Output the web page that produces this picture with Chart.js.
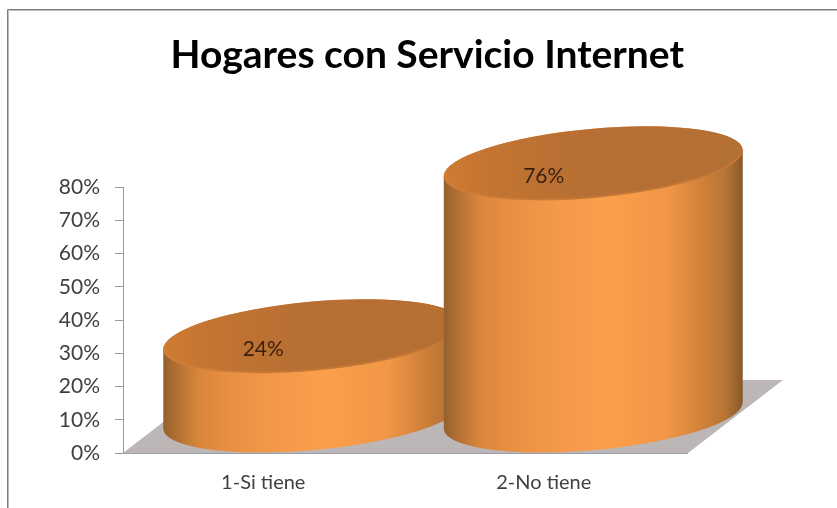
<!DOCTYPE html>
<html>
<head>
<meta charset="utf-8">
<title>Hogares con Servicio Internet</title>
<script src="https://cdn.jsdelivr.net/npm/chart.js@4/dist/chart.umd.min.js"></script>
<style>
    html, body { margin: 0; padding: 0; background: #fff; }
    canvas { display: block; }
</style>
</head>
<body>
<canvas id="chart" width="837" height="508"></canvas>
<script>
const categories = ['1-Si tiene', '2-No tiene'];
const values = [24, 76];
const chartTitle = 'Hogares con Servicio Internet';

// 3D look, in pixels: the floor runs back from the axis, cylinders stand mid-floor
const floorDepthX = 95;
const floorDepthY = 73;
const floorExtraRight = 4;
const barOffsetX = 49.5;
const barOffsetY = 37;
const topRadiusY = 34.5;
const topTilt = -0.0913;

function bodyGradient(ctx, left, right) {
    const g = ctx.createLinearGradient(left, 0, right, 0);
    g.addColorStop(0, '#91602e');
    g.addColorStop(0.03, '#a86a30');
    g.addColorStop(0.12, '#d9863c');
    g.addColorStop(0.25, '#ec9144');
    g.addColorStop(0.4, '#f5994a');
    g.addColorStop(0.55, '#fc9f4c');
    g.addColorStop(0.75, '#f19646');
    g.addColorStop(0.87, '#cf8039');
    g.addColorStop(0.94, '#b87436');
    g.addColorStop(0.98, '#96622d');
    g.addColorStop(1, '#85562a');
    return g;
}

function topGradient(ctx, left, right) {
    const g = ctx.createLinearGradient(left, 0, right, 0);
    g.addColorStop(0, '#d07c32');
    g.addColorStop(0.14, '#c47532');
    g.addColorStop(0.45, '#b76f33');
    g.addColorStop(1, '#b57034');
    return g;
}

const cylinderPlugin = {
    id: 'cylinders',
    beforeDraw(chart) {
        // figure frame, only top and left are visible
        const ctx = chart.ctx;
        ctx.save();
        ctx.strokeStyle = '#bbb';
        ctx.lineWidth = 1;
        ctx.beginPath();
        ctx.moveTo(8.5, chart.height);
        ctx.lineTo(8.5, 10.5);
        ctx.lineTo(chart.width, 10.5);
        ctx.stroke();
        ctx.strokeStyle = '#7d7d7d';
        ctx.beginPath();
        ctx.moveTo(7.5, chart.height);
        ctx.lineTo(7.5, 9.5);
        ctx.lineTo(chart.width, 9.5);
        ctx.stroke();
        ctx.restore();
    },
    afterDatasetsDraw(chart) {
        const ctx = chart.ctx;
        const area = chart.chartArea;
        const right = area.right + floorExtraRight;

        // floor
        ctx.save();
        ctx.fillStyle = '#bcb6b6';
        ctx.beginPath();
        ctx.moveTo(area.left, area.bottom);
        ctx.lineTo(right, area.bottom);
        ctx.lineTo(right + floorDepthX, area.bottom - floorDepthY);
        ctx.lineTo(area.left + floorDepthX, area.bottom - floorDepthY);
        ctx.closePath();
        ctx.fill();
        ctx.strokeStyle = '#9aa0a8';
        ctx.beginPath();
        ctx.moveTo(area.left, area.bottom + 0.5);
        ctx.lineTo(right, area.bottom + 0.5);
        ctx.stroke();

        const meta = chart.getDatasetMeta(0);
        meta.data.forEach((bar) => {
            const cx = bar.x + barOffsetX;
            const topY = bar.y - barOffsetY;
            const baseY = bar.base - barOffsetY;
            const rx = bar.width / 2;
            const left = cx - rx;
            const edgeAngle = Math.atan(-(topRadiusY / rx) * Math.tan(topTilt));

            // side of the cylinder
            ctx.fillStyle = bodyGradient(ctx, left, cx + rx);
            ctx.beginPath();
            ctx.ellipse(cx, baseY, rx, topRadiusY, topTilt, edgeAngle, edgeAngle + Math.PI);
            ctx.ellipse(cx, topY, rx, topRadiusY, topTilt, edgeAngle + Math.PI, edgeAngle + 2 * Math.PI);
            ctx.closePath();
            ctx.fill();

            // lid
            ctx.fillStyle = topGradient(ctx, left, cx + rx);
            ctx.beginPath();
            ctx.ellipse(cx, topY, rx, topRadiusY, topTilt, 0, 2 * Math.PI);
            ctx.fill();

            // soft lighter rim on the front of the lid
            ctx.strokeStyle = 'rgba(226,138,62,0.3)';
            ctx.lineWidth = 2;
            ctx.beginPath();
            ctx.ellipse(cx, topY, rx - 1, topRadiusY - 1, topTilt, edgeAngle + 0.1, edgeAngle + Math.PI - 0.1);
            ctx.stroke();
        });

        // value labels sit on the lids, drawn last so the front bar can't hide them
        ctx.fillStyle = '#3b2010';
        ctx.font = '21px Lato';
        ctx.textAlign = 'center';
        ctx.textBaseline = 'middle';
        meta.data.forEach((bar, i) => {
            ctx.fillText(values[i] + '%', bar.x, bar.y - 24);
        });
        ctx.restore();
    }
};

new Chart(document.getElementById('chart'), {
    type: 'bar',
    data: {
        labels: categories,
        datasets: [{
            data: values,
            backgroundColor: 'rgba(0,0,0,0)',
            barPercentage: 1.07,
            categoryPercentage: 1
        }]
    },
    options: {
        responsive: false,
        animation: false,
        layout: { padding: { left: 0, right: 153, top: 0, bottom: 0 } },
        plugins: {
            legend: { display: false },
            tooltip: { enabled: false },
            title: {
                display: true,
                text: chartTitle,
                align: 'end',
                color: '#000',
                font: { family: 'Lato', size: 39, weight: 'bold' },
                padding: { top: 32, bottom: 108.2 }
            }
        },
        scales: {
            x: {
                grid: { display: false },
                border: { color: '#9aa0a8' },
                ticks: { color: '#404040', font: { family: 'Lato', size: 20 }, padding: 10, maxRotation: 0 },
                afterFit(scale) { scale.height = 55; }
            },
            y: {
                min: 0,
                max: 80,
                grid: { drawOnChartArea: false, tickLength: 8, color: '#999' },
                border: { color: '#999' },
                ticks: {
                    stepSize: 10,
                    color: '#404040',
                    padding: 15,
                    font: { family: 'Lato', size: 21 },
                    callback: (v) => v + '%'
                },
                afterFit(scale) { scale.width = 123; }
            }
        }
    },
    plugins: [cylinderPlugin]
});
</script>
</body>
</html>
